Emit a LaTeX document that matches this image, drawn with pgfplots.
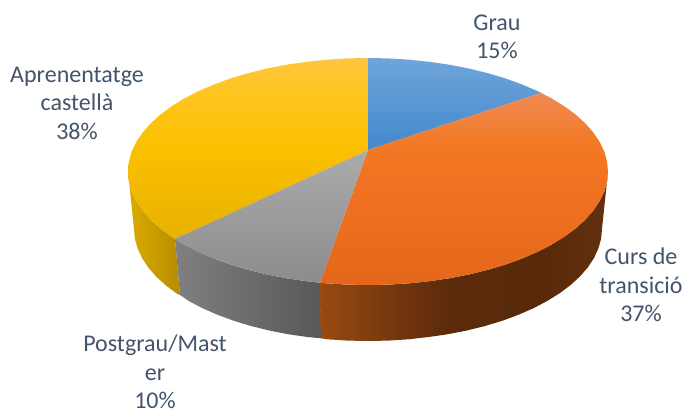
\documentclass[border=0pt]{standalone}
\usepackage{pgfplots}
\pgfplotsset{compat=1.18}
\usepackage{fontspec}
\setmainfont{Carlito}
\definecolor{lbl}{HTML}{44546A}
\definecolor{W1}{HTML}{DDAB00}
\definecolor{W2}{HTML}{B48D00}
\definecolor{G1}{HTML}{808080}
\definecolor{G2}{HTML}{585858}
\definecolor{B1}{HTML}{6FA5DA}
\definecolor{B2}{HTML}{4388CC}
\definecolor{S1}{HTML}{ABABAB}
\definecolor{S2}{HTML}{8C8C8C}
\definecolor{Oa}{HTML}{9A4A12}
\definecolor{Ob}{HTML}{7A3A0E}
\definecolor{Oc}{HTML}{5A2A0A}
\definecolor{Od}{HTML}{592A0A}
\definecolor{Oe}{HTML}{64300D}
\definecolor{Ra}{HTML}{E4681A}
\definecolor{Rb}{HTML}{F07122}
\definecolor{Rc}{HTML}{F37925}
\definecolor{Rd}{HTML}{EE8A55}
\definecolor{Ya}{HTML}{E8B100}
\definecolor{Yb}{HTML}{FBC000}
\definecolor{Yc}{HTML}{FEC51E}
\definecolor{Yd}{HTML}{FFC540}
\pgfdeclarehorizontalshading{orangewall}{100bp}{
  color(0bp)=(Oa);
  color(25bp)=(Oa);
  color(36bp)=(Ob);
  color(48bp)=(Oc);
  color(65bp)=(Od);
  color(75bp)=(Oe);
  color(100bp)=(Oe)}
\pgfdeclareverticalshading{orangetop}{100bp}{
  color(0bp)=(Ra);
  color(25bp)=(Ra);
  color(50bp)=(Rb);
  color(62bp)=(Rc);
  color(75bp)=(Rd);
  color(100bp)=(Rd)}
\pgfdeclareverticalshading{yellowtop}{100bp}{
  color(0bp)=(Ya);
  color(25bp)=(Ya);
  color(50bp)=(Yb);
  color(65bp)=(Yc);
  color(75bp)=(Yd);
  color(100bp)=(Yd)}
\newcommand{\lab}{\fontsize{18pt}{21.4pt}\selectfont\color{lbl}}
\begin{document}
\begin{tikzpicture}[x=1pt,y=1pt]
\path[use as bounding box] (0,0) rectangle (514.5pt,309pt);
\begin{axis}[
  at={(0,0)},anchor=south west,
  scale only axis,width=514.5pt,height=309pt,
  xmin=0,xmax=686,ymin=0,ymax=412,y dir=reverse,
  hide axis,clip=false,
  every axis plot/.append style={draw=none,no markers,line width=0pt}]
% walls
\addplot[left color=W1,right color=W2] coordinates {
(128,171.5)(128.9,181.4)(131.6,191.2)(136.2,200.9)(142.5,210.3)(150.5,219.5)(160.2,228.3)(171.4,236.6)(175,239)
(180,295)(176.3,293.2)(165.4,285)(155.9,276.3)(148.1,267.3)(142,258)(137.6,248.4)(134.9,238.8)(134,229)};
\addplot[left color=G1,right color=G2] coordinates {
(175,239)(184.2,244.5)(198.3,251.8)(213.7,258.4)(230.3,264.5)(248,269.8)(266.6,274.4)(285.9,278.2)(305.9,281.1)(320,282.7)
(321,338.3)(307.4,337)(288,334.2)(269.1,330.5)(251,326)(233.8,320.8)(217.6,314.8)(202.5,308.2)(188.8,301)(180,295)};
\addplot[shading=orangewall] coordinates {
(320,282.7)(326.3,283.3)(347.1,284.6)(368,285)(388.9,284.6)(409.7,283.3)(430.1,281.1)(450.1,278.2)(469.4,274.4)(488,269.8)(505.7,264.5)(522.3,258.4)(537.7,251.8)(551.8,244.5)(564.6,236.6)(575.8,228.3)(585.5,219.5)(593.5,210.3)(599.8,200.9)(604.4,191.2)(607.1,181.4)(608,171.5)
(602,229)(601.1,238.8)(598.4,248.4)(594,258)(587.9,267.3)(580.1,276.3)(570.6,285)(559.7,293.2)(547.2,301)(533.5,308.2)(518.4,314.8)(502.2,320.8)(485,326)(466.9,330.5)(448,334.2)(428.6,337)(408.6,339.3)(388.4,340.6)(368,341)(347.6,340.6)(327.4,339.3)(321,338.3)};
% top surface
\addplot[shading=yellowtop] coordinates {
(368,150)(175,239)(171.4,236.6)(160.2,228.3)(150.5,219.5)(142.5,210.3)(136.2,200.9)(131.6,191.2)(128.9,181.4)(128,171.5)(128.9,161.6)(131.6,151.8)(136.2,142.1)(142.5,132.7)(150.5,123.5)(160.2,114.7)(171.4,106.4)(184.2,98.5)(198.3,91.2)(213.7,84.6)(230.3,78.5)(248,73.2)(266.6,68.6)(285.9,64.8)(305.9,61.9)(326.3,59.7)(347.1,58.4)(368,58)};
\addplot[top color=B1,bottom color=B2] coordinates {
(368,150)(368,58)(388.9,58.4)(409.7,59.7)(430.1,61.9)(450.1,64.8)(469.4,68.6)(488,73.2)(505.7,78.5)(522.3,84.6)(537.7,91.2)(541,92.8)};
\addplot[shading=orangetop] coordinates {
(368,150)(541,92.8)(551.8,98.5)(564.6,106.4)(575.8,114.7)(585.5,123.5)(593.5,132.7)(599.8,142.1)(604.4,151.8)(607.1,161.6)(608,171.5)(607.1,181.4)(604.4,191.2)(599.8,200.9)(593.5,210.3)(585.5,219.5)(575.8,228.3)(564.6,236.6)(551.8,244.5)(537.7,251.8)(522.3,258.4)(505.7,264.5)(488,269.8)(469.4,274.4)(450.1,278.2)(430.1,281.1)(409.7,283.3)(388.9,284.6)(368,285)(347.1,284.6)(326.3,283.3)(320,282.7)};
\addplot[top color=S1,bottom color=S2] coordinates {
(368,150)(320,282.7)(305.9,281.1)(285.9,278.2)(266.6,274.4)(248,269.8)(230.3,264.5)(213.7,258.4)(198.3,251.8)(184.2,244.5)(175,239)};
% labels
\node[align=center,font=\lab] at (axis cs:497,37) {Grau\\15\%};
\node[align=center,font=\lab] at (axis cs:77,103) {Aprenentatge\\castellà\\38\%};
\node[align=center,font=\lab] at (axis cs:641,285) {Curs de\\transició\\37\%};
\node[align=center,font=\lab,inner sep=0pt] at (axis cs:155,372) {Postgrau/Mast\\er\\10\%};
\end{axis}
\end{tikzpicture}
\end{document}
